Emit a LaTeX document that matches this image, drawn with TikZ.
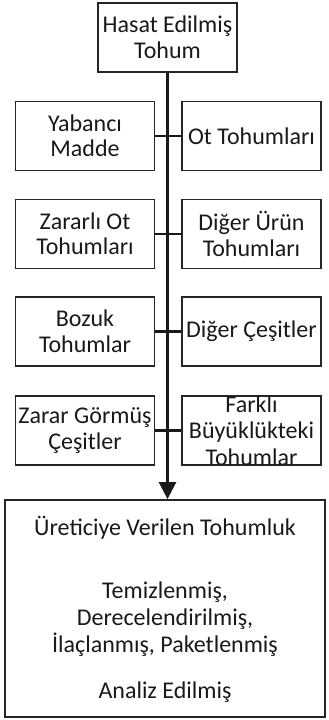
\documentclass[tikz,border=0pt]{standalone}
\usepackage{fontspec}
\setmainfont{Carlito}
\usetikzlibrary{arrows.meta}
\begin{document}
\begin{tikzpicture}[x=1pt,y=-1pt,
  box/.style={draw=black!85, line width=1.8pt, minimum width=139pt, minimum height=69pt, inner sep=0pt, align=center, font=\fontsize{24}{25.5}\selectfont, text=black!90},
  txt/.style={inner sep=0pt, align=center, font=\fontsize{24}{26.5}\selectfont, text=black!90},
  link/.style={draw=black!90, line width=2.6pt}]
\useasboundingbox (0,0) rectangle (329,720);
\node[box] (top) at (167.5,37.5) {Hasat Edilmiş\\Tohum};
\node[box] (l1) at (85,136) {Yabancı\\Madde};
\node[box] (r1) at (251.5,136) {Ot Tohumları};
\node[box] (l2) at (85,234) {Zararlı Ot\\Tohumları};
\node[box] (r2) at (251.5,234) {Diğer Ürün\\Tohumları};
\node[box] (l3) at (85,331.5) {Bozuk\\Tohumlar};
\node[box] (r3) at (251.5,331.5) {Diğer Çeşitler};
\node[box] (l4) at (85,430.5) {Zarar Görmüş\\Çeşitler};
\node[box] (r4) at (251.5,430.5) {};
\node[txt] (r4t) at (r4.center) {Farklı\\Büyüklükteki\\Tohumlar};
\node[draw=black!85, line width=1.8pt, minimum width=320pt, minimum height=217pt, inner sep=0pt] (bot) at (165,608.5) {};
\node[txt, font=\fontsize{24}{27}\selectfont] (bott) at (165,609) {Üreticiye Verilen Tohumluk\\[36pt]Temizlenmiş,\\Derecelendirilmiş,\\İlaçlanmış, Paketlenmiş\\[19pt]Analiz Edilmiş};
\draw[link] (l1.east) -- (r1.west);
\draw[link] (l2.east) -- (r2.west);
\draw[link] (l3.east) -- (r3.west);
\draw[link] (l4.east) -- (r4.west);
\draw[link, -{Triangle[length=17pt,width=17pt]}] (top.south) -- (top.south |- bot.north);
\end{tikzpicture}
\end{document}
